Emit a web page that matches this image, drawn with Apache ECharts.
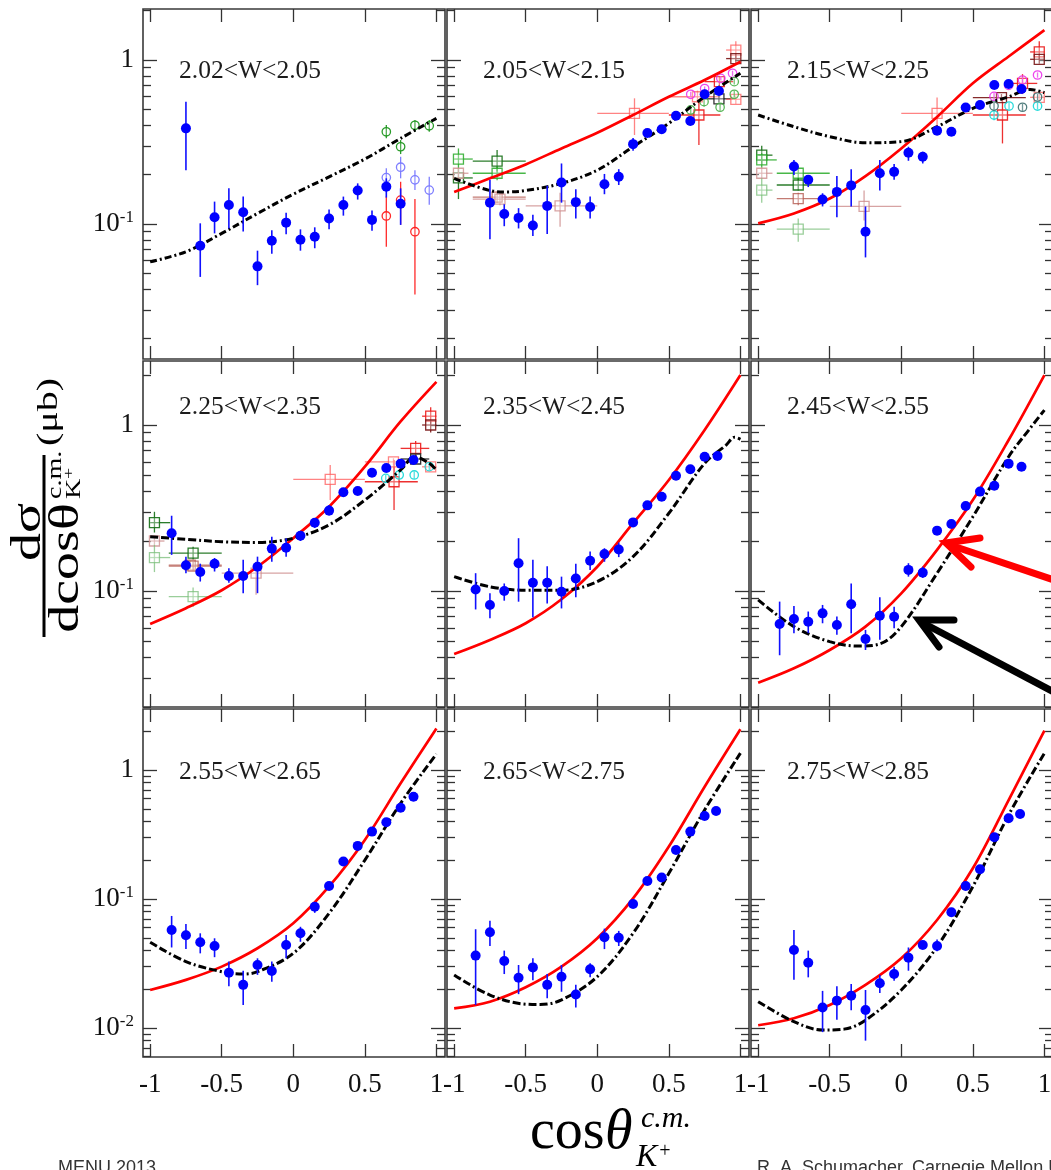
<!DOCTYPE html>
<html><head><meta charset="utf-8">
<script src="https://cdn.jsdelivr.net/npm/echarts@6/dist/echarts.min.js"></script>
<style>html,body{margin:0;padding:0;background:#fff;}#c{width:1051px;height:1170px;}</style>
</head><body><div id="c"></div>
<script>
// ---------------- data ----------------
const panelTitles = ['2.02<W<2.05','2.05<W<2.15','2.15<W<2.25','2.25<W<2.35','2.35<W<2.45','2.45<W<2.55','2.55<W<2.65','2.65<W<2.75','2.75<W<2.85'];
const xTickValues = [-1, -0.5, 0, 0.5, 1];
const yMajorValues = [0.01, 0.1, 1];
const yMinorValues = [0.006,0.007,0.008,0.009,0.02,0.03,0.04,0.05,0.06,0.07,0.08,0.09,0.2,0.3,0.4,0.5,0.6,0.7,0.8,0.9,2];

// CLAS points: [cos, value, low, high]
const clas1 = [[-0.75,0.383,0.213,0.557],[-0.65,0.0738,0.0476,0.101],[-0.55,0.110,0.0877,0.137],[-0.45,0.1306,0.094,0.165],[-0.35,0.118,0.090,0.147],[-0.25,0.0552,0.0424,0.0688],[-0.15,0.0791,0.066,0.0916],[-0.05,0.102,0.0866,0.117],[0.05,0.0802,0.0688,0.0928],[0.15,0.0837,0.0712,0.0955],[0.25,0.108,0.093,0.1226],[0.35,0.1306,0.1125,0.147],[0.45,0.160,0.141,0.177],[0.55,0.106,0.0909,0.121],[0.65,0.169,0.145,0.19],[0.75,0.133,0.0988,0.165]];
const clas2 = [[-0.75,0.135,0.0807,0.186],[-0.65,0.115,0.097,0.132],[-0.55,0.109,0.094,0.125],[-0.45,0.098,0.0846,0.114],[-0.35,0.129,0.0868,0.171],[-0.25,0.179,0.135,0.234],[-0.15,0.136,0.108,0.163],[-0.05,0.127,0.108,0.147],[0.05,0.175,0.152,0.202],[0.15,0.194,0.173,0.216],[0.25,0.307,0.28,0.335],[0.35,0.359,0.34,0.38],[0.45,0.378,0.355,0.40],[0.55,0.457,0.435,0.48],[0.65,0.425,0.40,0.45],[0.75,0.618,0.58,0.66],[0.85,0.647,0.61,0.69]];
const clas3 = [[-0.75,0.224,0.199,0.246],[-0.65,0.186,0.168,0.199],[-0.55,0.141,0.128,0.154],[-0.45,0.157,0.110,0.196],[-0.35,0.172,0.128,0.216],[-0.25,0.0898,0.0626,0.128],[-0.15,0.204,0.160,0.246],[-0.05,0.208,0.186,0.232],[0.05,0.272,0.243,0.296],[0.15,0.257,0.234,0.276],[0.25,0.371,0.35,0.39],[0.35,0.365,0.345,0.385],[0.45,0.514,0.49,0.54],[0.55,0.532,0.51,0.555],[0.65,0.704,0.67,0.74],[0.75,0.714,0.68,0.75],[0.84,0.666,0.63,0.70]];
const clas4 = [[-0.85,0.223,0.165,0.284],[-0.75,0.143,0.128,0.161],[-0.65,0.130,0.114,0.146],[-0.55,0.146,0.131,0.158],[-0.45,0.123,0.112,0.137],[-0.35,0.123,0.097,0.154],[-0.25,0.140,0.097,0.161],[-0.15,0.180,0.150,0.212],[-0.05,0.182,0.161,0.208],[0.05,0.215,0.20,0.23],[0.15,0.258,0.24,0.275],[0.25,0.305,0.285,0.33],[0.35,0.393,0.375,0.41],[0.45,0.40,0.38,0.42],[0.55,0.516,0.495,0.535],[0.65,0.551,0.53,0.575],[0.75,0.585,0.56,0.61],[0.84,0.616,0.59,0.64]];
const clas5 = [[-0.85,0.102,0.0774,0.128],[-0.75,0.0824,0.0685,0.0968],[-0.65,0.1,0.0874,0.111],[-0.55,0.147,0.0862,0.208],[-0.45,0.112,0.0695,0.154],[-0.35,0.112,0.0842,0.141],[-0.25,0.099,0.0785,0.122],[-0.15,0.119,0.0917,0.146],[-0.05,0.152,0.134,0.173],[0.05,0.167,0.150,0.181],[0.15,0.178,0.16,0.196],[0.25,0.259,0.245,0.275],[0.35,0.328,0.31,0.345],[0.45,0.370,0.35,0.39],[0.55,0.495,0.475,0.515],[0.65,0.541,0.52,0.56],[0.75,0.644,0.62,0.67],[0.84,0.650,0.625,0.675]];
const clas6 = [[-0.85,0.0633,0.041,0.0863],[-0.75,0.0678,0.0557,0.0812],[-0.65,0.0653,0.0557,0.0752],[-0.55,0.0733,0.0639,0.0824],[-0.45,0.0624,0.0544,0.0701],[-0.35,0.0832,0.0557,0.111],[-0.25,0.0514,0.0441,0.0583],[-0.15,0.071,0.0508,0.0917],[-0.05,0.070,0.0597,0.0804],[0.05,0.134,0.122,0.147],[0.15,0.129,0.12,0.14],[0.25,0.231,0.22,0.243],[0.35,0.253,0.24,0.266],[0.45,0.325,0.31,0.34],[0.55,0.397,0.38,0.415],[0.65,0.431,0.41,0.45],[0.75,0.585,0.56,0.61],[0.84,0.561,0.54,0.585]];
const clas7 = [[-0.85,0.0575,0.0421,0.0739],[-0.75,0.0523,0.0409,0.0639],[-0.65,0.0462,0.0379,0.0542],[-0.55,0.0432,0.0354,0.0496],[-0.45,0.0268,0.0211,0.0327],[-0.35,0.0216,0.0151,0.0278],[-0.25,0.0308,0.0258,0.0347],[-0.15,0.0277,0.0228,0.0327],[-0.05,0.044,0.0347,0.0525],[0.05,0.0542,0.0466,0.0609],[0.15,0.0872,0.0781,0.095],[0.25,0.126,0.118,0.134],[0.35,0.195,0.185,0.205],[0.45,0.258,0.245,0.27],[0.55,0.333,0.32,0.35],[0.65,0.393,0.375,0.41],[0.75,0.510,0.49,0.53],[0.84,0.621,0.6,0.645]];
const clas8 = [[-0.85,0.0364,0.0151,0.0583],[-0.75,0.0552,0.0432,0.0678],[-0.65,0.0331,0.0262,0.0398],[-0.55,0.0245,0.0183,0.0308],[-0.45,0.0295,0.0235,0.0347],[-0.35,0.0216,0.017,0.0262],[-0.25,0.025,0.0191,0.0308],[-0.15,0.0182,0.0144,0.0216],[-0.05,0.0285,0.0247,0.0317],[0.05,0.0505,0.0409,0.0589],[0.15,0.0501,0.0432,0.0566],[0.25,0.0915,0.087,0.097],[0.35,0.138,0.131,0.145],[0.45,0.147,0.14,0.155],[0.55,0.240,0.23,0.252],[0.65,0.333,0.32,0.35],[0.75,0.440,0.42,0.46],[0.83,0.481,0.46,0.50]];
const clas9 = [[-0.75,0.0402,0.0237,0.0574],[-0.65,0.0321,0.0247,0.0398],[-0.55,0.0144,0.00929,0.0194],[-0.45,0.0163,0.0116,0.0211],[-0.35,0.0178,0.0137,0.0219],[-0.25,0.0138,0.00798,0.0197],[-0.15,0.0222,0.0187,0.0258],[-0.05,0.0262,0.0232,0.0299],[0.05,0.0351,0.0278,0.0421],[0.15,0.044,0.041,0.047],[0.25,0.0432,0.0393,0.0486],[0.35,0.0789,0.075,0.083],[0.45,0.126,0.12,0.132],[0.55,0.170,0.162,0.178],[0.65,0.301,0.29,0.315],[0.75,0.422,0.405,0.44],[0.83,0.456,0.44,0.475]];

// model curves: [cos, value]
const red2 = [[-1,0.157],[-0.75,0.19],[-0.5,0.231],[-0.25,0.289],[0,0.360],[0.25,0.462],[0.5,0.597],[0.75,0.755],[1,0.976]];
const red3 = [[-1,0.101],[-0.75,0.116],[-0.5,0.143],[-0.25,0.196],[0,0.289],[0.25,0.45],[0.5,0.721],[0.75,1.05],[1,1.52]];
const red4 = [[-1,0.0633],[-0.75,0.0787],[-0.5,0.101],[-0.25,0.140],[0,0.208],[0.25,0.322],[0.5,0.561],[0.75,1.05],[1,1.82]];
const red5 = [[-1,0.0417],[-0.75,0.0507],[-0.5,0.0639],[-0.25,0.0891],[0,0.140],[0.25,0.256],[0.5,0.466],[0.75,0.933],[1,2.0]];
const red6 = [[-1,0.028],[-0.75,0.0342],[-0.5,0.0441],[-0.25,0.061],[0,0.0968],[0.25,0.177],[0.5,0.353],[0.75,0.812],[1,2.0]];
const red7 = [[-1,0.0197],[-0.75,0.0236],[-0.5,0.0299],[-0.25,0.0415],[0,0.0648],[0.25,0.125],[0.5,0.287],[0.75,0.789],[1,2.1]];
const red8 = [[-1,0.0142],[-0.75,0.016],[-0.5,0.0207],[-0.25,0.0299],[0,0.0496],[0.25,0.101],[0.5,0.255],[0.75,0.742],[1,2.07]];
const red9 = [[-1,0.0105],[-0.75,0.0119],[-0.5,0.0151],[-0.25,0.0216],[0,0.0347],[0.25,0.0687],[0.5,0.173],[0.75,0.585],[1,2.02]];
const black1 = [[-1,0.0589],[-0.75,0.0678],[-0.5,0.0877],[-0.25,0.116],[0,0.152],[0.25,0.194],[0.5,0.249],[0.75,0.333],[1,0.441]];
const black2 = [[-1,0.19],[-0.75,0.16],[-0.63,0.157],[-0.5,0.16],[-0.25,0.177],[0,0.213],[0.25,0.296],[0.5,0.411],[0.75,0.597],[1,0.83]];
const black3 = [[-1,0.462],[-0.75,0.392],[-0.5,0.341],[-0.25,0.313],[0,0.318],[0.25,0.392],[0.5,0.507],[0.75,0.597],[0.9,0.662],[1,0.632]];
const black4 = [[-1,0.212],[-0.75,0.205],[-0.5,0.198],[-0.25,0.196],[0,0.208],[0.25,0.25],[0.5,0.353],[0.75,0.536],[0.85,0.644],[0.95,0.588],[1,0.536]];
const black5 = [[-1,0.122],[-0.75,0.106],[-0.5,0.101],[-0.25,0.101],[0,0.114],[0.25,0.161],[0.5,0.294],[0.75,0.588],[0.9,0.757],[0.96,0.843],[1,0.82]];
const black6 = [[-1,0.0883],[-0.75,0.061],[-0.5,0.0495],[-0.3,0.0466],[-0.15,0.048],[0,0.061],[0.25,0.128],[0.5,0.28],[0.75,0.644],[0.9,0.955],[1,1.23]];
const black7 = [[-1,0.0462],[-0.75,0.0327],[-0.5,0.0273],[-0.35,0.0262],[-0.25,0.0273],[0,0.0379],[0.25,0.0775],[0.5,0.2],[0.75,0.552],[1,1.33]];
const black8 = [[-1,0.0258],[-0.75,0.018],[-0.5,0.0153],[-0.4,0.0152],[-0.25,0.0165],[0,0.025],[0.25,0.0542],[0.5,0.158],[0.75,0.49],[1,1.35]];
const black9 = [[-1,0.016],[-0.75,0.0112],[-0.55,0.00964],[-0.4,0.0098],[-0.25,0.0115],[0,0.0197],[0.25,0.0427],[0.5,0.125],[0.75,0.448],[1,1.35]];

// other experiments: [dataset, cos, value, cosLow, cosHigh, low, high]
const others1 = [['N',0.65,0.365,null,null,0.333,0.402],['N',0.75,0.296,null,null,0.267,0.325],['N',0.85,0.40,null,null,0.365,0.431],['N',0.95,0.397,null,null,0.365,0.431],
 ['O',0.65,0.192,null,null,0.169,0.219],['O',0.75,0.222,null,null,0.19,0.257],['O',0.85,0.186,null,null,0.161,0.213],['O',0.95,0.161,null,null,0.131,0.194],
 ['P',0.65,0.112,null,null,0.0728,0.147],['P',0.75,0.140,null,null,0.099,0.181],['P',0.85,0.0898,null,null,0.0372,0.142]];
const others2 = [['A',-0.97,0.249,-1.0,-0.87,0.213,0.289],['B',-0.97,0.191,-1.0,-0.87,0.142,0.213],['E',-0.97,0.204,-1.0,-0.9,0.19,0.22],
 ['B',-0.70,0.242,-0.87,-0.5,0.209,0.283],['A',-0.70,0.204,-0.87,-0.5,0.185,0.225],['D',-0.70,0.146,-0.87,-0.5,0.135,0.158],['E',-0.68,0.142,-0.87,-0.5,0.13,0.155],
 ['E',-0.26,0.129,-0.5,0.0,0.0963,0.155],['F',0.26,0.473,0.0,0.5,0.349,0.584],['G',0.71,0.462,0.5,0.86,0.303,0.57],['F',0.70,0.597,0.5,0.86,0.55,0.65],
 ['M',0.85,0.58,0.75,0.95,0.55,0.61],['G',0.853,0.738,0.75,0.95,0.68,0.80],['F',0.968,1.15,0.9,1.0,1.02,1.3],['H',0.968,1.02,0.9,1.0,0.95,1.1],['F',0.968,0.576,0.9,1.0,0.54,0.61],
 ['I',0.653,0.618,null,null,0.6,0.64],['I',0.75,0.67,null,null,0.65,0.69],['I',0.863,0.773,null,null,0.75,0.8],['I',0.945,0.83,null,null,0.8,0.86],
 ['J',0.653,0.496,null,null,0.47,0.52],['J',0.746,0.557,null,null,0.52,0.59],['J',0.858,0.515,null,null,0.49,0.54],['J',0.957,0.618,null,null,0.59,0.65],['J',0.957,0.738,null,null,0.71,0.77]];
const others3 = [['B',-0.975,0.263,-1.0,-0.9,0.23,0.30],['A',-0.975,0.246,-1.0,-0.87,0.22,0.27],['E',-0.975,0.204,-1.0,-0.9,0.19,0.22],['C',-0.975,0.161,-1.0,-0.9,0.135,0.19],
 ['A',-0.72,0.204,-0.87,-0.5,0.185,0.225],['B',-0.72,0.173,-0.87,-0.5,0.16,0.19],['D',-0.72,0.143,-0.87,-0.5,0.13,0.155],['C',-0.72,0.093,-0.87,-0.5,0.078,0.108],
 ['E',-0.26,0.128,-0.5,0.0,0.105,0.16],['F',0.25,0.473,0.0,0.5,0.36,0.59],['G',0.707,0.462,0.5,0.87,0.31,0.59],['H',0.70,0.59,0.5,0.87,0.56,0.62],
 ['G',0.847,0.72,0.75,0.95,0.62,0.82],['G',0.964,1.12,0.9,1.0,1.0,1.3],['H',0.964,1.01,0.9,1.0,0.95,1.08],['F',0.964,0.592,0.9,1.0,0.56,0.62],
 ['I',0.648,0.60,null,null,0.57,0.63],['I',0.75,0.70,null,null,0.67,0.73],['I',0.847,0.755,null,null,0.72,0.79],['I',0.952,0.81,null,null,0.78,0.84],
 ['K',0.648,0.462,null,null,0.43,0.49],['K',0.753,0.524,null,null,0.5,0.55],['K',0.952,0.524,null,null,0.5,0.55],
 ['L',0.648,0.524,null,null,0.5,0.55],['L',0.847,0.515,null,null,0.49,0.54],['L',0.952,0.595,null,null,0.57,0.62]];
const others4 = [['B',-0.97,0.258,-1.0,-0.86,0.225,0.30],['E',-0.97,0.20,-1.0,-0.9,0.19,0.21],['C',-0.97,0.159,-1.0,-0.86,0.13,0.19],
 ['B',-0.70,0.169,-0.87,-0.5,0.155,0.185],['D',-0.72,0.143,-0.87,-0.5,0.135,0.152],['D',-0.70,0.141,-0.87,-0.5,0.133,0.15],['C',-0.70,0.0924,-0.87,-0.5,0.08,0.105],
 ['E',-0.26,0.128,-0.5,0.0,0.095,0.15],['F',0.258,0.471,0.0,0.5,0.353,0.574],['G',0.704,0.455,0.5,0.87,0.308,0.615],['F',0.70,0.60,0.5,0.87,0.57,0.63],
 ['G',0.855,0.723,0.75,0.95,0.65,0.80],['G',0.96,1.13,0.9,1.0,1.02,1.28],['H',0.96,1.0,0.9,1.0,0.9,1.06],['M',0.855,0.624,0.75,0.95,0.6,0.65],['F',0.96,0.56,0.9,1.0,0.53,0.59],
 ['K',0.646,0.477,null,null,0.45,0.5],['K',0.74,0.5,null,null,0.475,0.525],['K',0.845,0.5,null,null,0.475,0.525],['K',0.95,0.561,null,null,0.535,0.59]];

const clasSets = [clas1,clas2,clas3,clas4,clas5,clas6,clas7,clas8,clas9];
const redSets = [null,red2,red3,red4,red5,red6,red7,red8,red9];
const blackSets = [black1,black2,black3,black4,black5,black6,black7,black8,black9];
const otherSets = [others1,others2,others3,others4,null,null,null,null,null];

// ---------------- layout & style ----------------
const colLeft = [143, 447, 751];
const rowTop = [9, 361, 709];
const rowHeight = [350, 346, 348];
const panelWidth = 302;
const xRange = [-1.05, 1.06];
const yRanges = [[0.01504, 2.046], [0.0200, 2.43], [0.00596, 2.97]];
const SERIF = '"Liberation Serif", "Times New Roman", serif';

const otherStyle = {
  A:{shape:'sq', color:'rgba(40,170,40,0.85)'},
  B:{shape:'sq', color:'rgba(20,110,20,0.9)'},
  C:{shape:'sq', color:'rgba(120,190,120,0.75)'},
  D:{shape:'sq', color:'rgba(180,90,80,0.8)'},
  E:{shape:'sq', color:'rgba(205,140,140,0.8)'},
  F:{shape:'sq', color:'rgba(255,90,90,0.75)'},
  G:{shape:'sq', color:'rgba(235,25,25,0.9)'},
  H:{shape:'sq', color:'rgba(120,20,20,0.9)'},
  M:{shape:'sq', color:'rgba(30,30,30,0.9)'},
  I:{shape:'ci', color:'rgba(235,50,235,0.9)'},
  J:{shape:'ci', color:'rgba(60,170,60,0.85)'},
  K:{shape:'ci', color:'rgba(20,215,215,0.9)'},
  L:{shape:'ci', color:'rgba(60,110,110,0.9)'},
  N:{shape:'ci', color:'rgba(30,150,30,0.95)'},
  O:{shape:'ci', color:'rgba(120,120,255,0.95)'},
  P:{shape:'ci', color:'rgba(255,30,30,0.95)'}
};

function yLabelFormatter(v) {
  if (Math.abs(v - 1) < 1e-9) return '1';
  const e = Math.round(Math.log10(v));
  return '{b|10}{s|' + e + '}';
}

const grid = [], xAxis = [], yAxis = [], series = [], title = [];
for (let r = 0; r < 3; r++) {
  for (let c = 0; c < 3; c++) {
    const i = r * 3 + c;
    grid.push({left: colLeft[c], top: rowTop[r], width: panelWidth, height: rowHeight[r], show: true,
      borderColor: '#3a3a3a', borderWidth: 1.6, backgroundColor: 'rgba(0,0,0,0)', outerBoundsMode: 'none', containLabel: false});
    const tickStyle = {color: '#333', width: 1.3};
    ['bottom', 'top'].forEach(function (pos) {
      xAxis.push({type: 'value', gridIndex: i, position: pos, min: xRange[0], max: xRange[1],
        axisLine: {show: false, onZero: false}, splitLine: {show: false},
        axisTick: {show: true, inside: true, length: 13, customValues: xTickValues, lineStyle: tickStyle},
        axisLabel: {show: pos === 'bottom' && r === 2, customValues: xTickValues, margin: 14,
          color: '#111', fontFamily: SERIF, fontSize: 27}});
    });
    ['left', 'right'].forEach(function (pos) {
      yAxis.push({type: 'log', logBase: 10, gridIndex: i, position: pos, min: yRanges[r][0], max: yRanges[r][1],
        axisLine: {show: false, onZero: false}, splitLine: {show: false},
        axisTick: {show: true, inside: true, length: 14, customValues: yMajorValues, lineStyle: tickStyle},
        axisLabel: {show: pos === 'left' && c === 0, customValues: yMajorValues, margin: 9,
          color: '#111', fontFamily: SERIF, fontSize: 27, formatter: yLabelFormatter,
          rich: {b: {fontFamily: SERIF, fontSize: 27, color: '#111', lineHeight: 30},
                 s: {fontFamily: SERIF, fontSize: 17, color: '#111', lineHeight: 14, verticalAlign: 'top'}}}});
      yAxis.push({type: 'log', logBase: 10, gridIndex: i, position: pos, min: yRanges[r][0], max: yRanges[r][1],
        axisLine: {show: false, onZero: false}, splitLine: {show: false},
        axisTick: {show: true, inside: true, length: 8, customValues: yMinorValues, lineStyle: tickStyle},
        axisLabel: {show: false}});
    });
    title.push({text: panelTitles[i], left: colLeft[c] + 36, top: rowTop[r] + (r === 0 ? 49 : r === 1 ? 33 : 50), padding: 0,
      textStyle: {fontFamily: SERIF, fontSize: 25.5, fontWeight: 'normal', color: '#1c1c1c'}});

    const xi = 2 * i, yi = 4 * i;
    const oth = otherSets[i];
    if (oth) {
      series.push({type: 'custom', xAxisIndex: xi, yAxisIndex: yi, z: 2, clip: true,
        data: oth.map(function (d) { return [d[1], d[2]]; }),
        encode: {x: 0, y: 1},
        renderItem: function (params, api) {
          const d = oth[params.dataIndex];
          const st = otherStyle[d[0]];
          const p = api.coord([d[1], d[2]]);
          const lo = api.coord([d[1], d[5]]), hi = api.coord([d[1], d[6]]);
          const ch = [{type: 'line', shape: {x1: lo[0], y1: lo[1], x2: hi[0], y2: hi[1]}, style: {stroke: st.color, lineWidth: 1.3}}];
          if (d[3] !== null) {
            const a = api.coord([d[3], d[2]]), b = api.coord([d[4], d[2]]);
            ch.push({type: 'line', shape: {x1: a[0], y1: a[1], x2: b[0], y2: b[1]}, style: {stroke: st.color, lineWidth: 1.3}});
          }
          if (st.shape === 'sq') {
            ch.push({type: 'rect', shape: {x: p[0] - 5, y: p[1] - 5, width: 10, height: 10}, style: {stroke: st.color, fill: 'rgba(255,255,255,0.35)', lineWidth: 1.3}});
          } else {
            ch.push({type: 'circle', shape: {cx: p[0], cy: p[1], r: 4.2}, style: {stroke: st.color, fill: 'rgba(255,255,255,0.2)', lineWidth: 1.3}});
          }
          return {type: 'group', children: ch};
        }});
    }
    if (redSets[i]) {
      series.push({type: 'line', xAxisIndex: xi, yAxisIndex: yi, z: 3, data: redSets[i], smooth: 0.35, showSymbol: false,
        lineStyle: {color: '#ff0000', width: 2.7}, clip: true, silent: true});
    }
    series.push({type: 'line', xAxisIndex: xi, yAxisIndex: yi, z: 3, data: blackSets[i], smooth: 0.35, showSymbol: false,
      lineStyle: {color: '#000', width: 3, type: r === 0 ? [7, 3, 2, 3] : [8, 3, 8, 3, 2, 3]}, clip: true, silent: true});
    const cl = clasSets[i];
    series.push({type: 'custom', xAxisIndex: xi, yAxisIndex: yi, z: 4, clip: true,
      data: cl, encode: {x: 0, y: 1},
      renderItem: function (params, api) {
        const x = api.value(0);
        const a = api.coord([x, api.value(2)]), b = api.coord([x, api.value(3)]);
        return {type: 'line', shape: {x1: a[0], y1: a[1], x2: b[0], y2: b[1]}, style: {stroke: '#1010ff', lineWidth: 1.6}};
      }});
    series.push({type: 'scatter', xAxisIndex: xi, yAxisIndex: yi, z: 5, data: cl.map(function (d) { return [d[0], d[1]]; }),
      symbol: 'circle', symbolSize: 10, itemStyle: {color: '#0000ff', opacity: 1}, silent: true});
  }
}

function txt(x, y, text, font, align, extra) {
  return {type: 'text', x: x, y: y, style: Object.assign({text: text, font: font, fill: '#000',
    align: align || 'left', textAlign: align || 'left', verticalAlign: 'middle', textVerticalAlign: 'middle'}, extra || {})};
}

const graphic = [
  // y title
  {type: 'group', x: 44, y: 546, rotation: Math.PI / 2, scaleY: 0.75, children: [
    {type: 'line', shape: {x1: -91, y1: 0, x2: 91, y2: 0}, style: {stroke: '#000', lineWidth: 4}},
    txt(14, -20, 'dσ', '56px ' + SERIF, 'center'),
    txt(-22, 30, 'dcosθ', '56px ' + SERIF, 'center'),
    txt(47, 15, 'c.m.', '28px ' + SERIF, 'left'),
    txt(47, 41, 'K', '28px ' + SERIF, 'left'),
    txt(67, 33, '+', '20px ' + SERIF, 'left'),
    txt(134, 7, '(μb)', '40px ' + SERIF, 'center')
  ]},
  // x title
  txt(530, 1133, 'cos', '56px ' + SERIF, 'left'),
  txt(605, 1133, 'θ', 'italic 56px ' + SERIF, 'left'),
  txt(641, 1119, 'c.m.', 'italic 30px ' + SERIF, 'left'),
  txt(636, 1158, 'K', 'italic 32px ' + SERIF, 'left'),
  txt(658, 1152, '+', 'italic 20px ' + SERIF, 'left'),
  // footer
  txt(58, 1168, 'MENU 2013', '18px "Liberation Sans", Arial, sans-serif', 'left', {fill: '#333'}),
  txt(757, 1168, 'R. A. Schumacher, Carnegie Mellon University', '18px "Liberation Sans", Arial, sans-serif', 'left', {fill: '#333'}),
  // arrows
  {type: 'line', z: 100, shape: {x1: 1054, y1: 580, x2: 950, y2: 545}, style: {stroke: '#ff0000', lineWidth: 7}},
  {type: 'polyline', z: 100, shape: {points: [[980, 538], [946, 543], [971, 567]]}, style: {stroke: '#ff0000', lineWidth: 7, fill: null, lineJoin: 'miter', lineCap: 'round'}},
  {type: 'line', z: 100, shape: {x1: 1054, y1: 692, x2: 923, y2: 623}, style: {stroke: '#000', lineWidth: 7}},
  {type: 'polyline', z: 100, shape: {points: [[954, 620], [919, 620], [939, 647]]}, style: {stroke: '#000', lineWidth: 7, fill: null, lineJoin: 'miter', lineCap: 'round'}}
];

const chart = echarts.init(document.getElementById('c'), null, {renderer: 'canvas'});
chart.setOption({backgroundColor: '#fff', animation: false, title: title, grid: grid, xAxis: xAxis, yAxis: yAxis, series: series, graphic: graphic});
</script></body></html>
